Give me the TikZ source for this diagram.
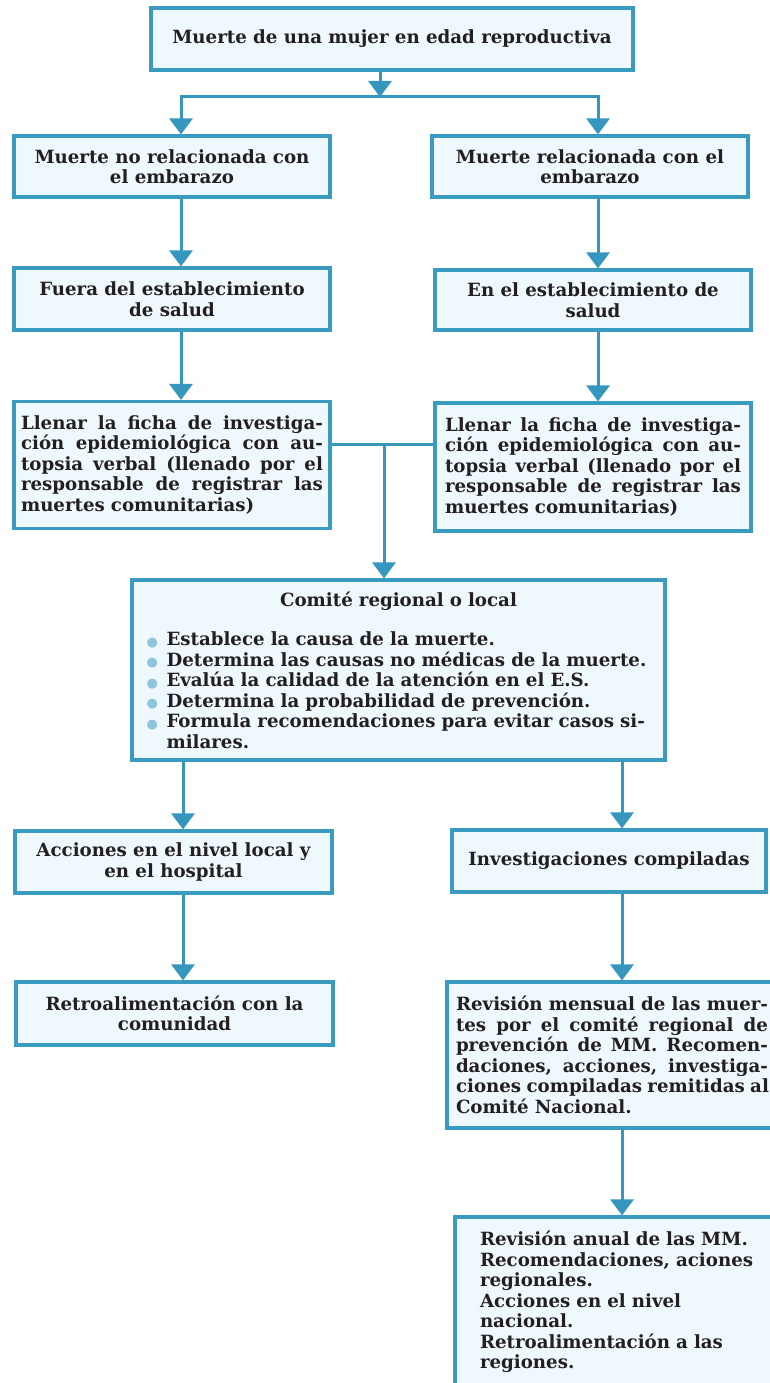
\documentclass[tikz,border=0pt]{standalone}
\usepackage{fontspec}
\setmainfont{DejaVu Serif}
\newfontfamily\symf{DejaVu Sans}
\usetikzlibrary{arrows.meta}
\definecolor{bc}{HTML}{3A9BC1}
\definecolor{ac}{HTML}{3597BE}
\definecolor{bf}{HTML}{EEF8FD}
\definecolor{dotc}{HTML}{8EC4DC}
\definecolor{tx}{HTML}{231F20}
\newcommand\fs{\fontsize{18.2}{20.5}\selectfont\bfseries}
\newcommand\bul{\textcolor{dotc}{\raisebox{-0.5pt}{\symf\fontsize{13}{13}\selectfont ●}}}
\newcommand\bit[1]{\par\hangindent=28pt\hangafter=1\noindent\makebox[28pt][l]{\hspace{8pt}\bul}#1}
\newcommand\jl[2]{\makebox[#1pt][s]{\spaceskip=\fontdimen2\font plus 1fil minus 1pt\relax\xspaceskip=\spaceskip #2}}
\tikzset{
  box/.style={draw=bc, fill=bf, line width=3.2pt, rectangle, inner sep=0pt, font=\fs, text=tx, align=center},
  conn/.style={draw=ac, line width=3pt},
  arr/.style={conn, -{Triangle[width=23pt,length=16pt]}},
}
\begin{document}
\begin{tikzpicture}[x=1pt,y=-1pt]
\useasboundingbox (0,0) rectangle (769,1383);
% boxes
\node[box, minimum width=482, minimum height=62] (top) at (392,39) {Muerte de una mujer en edad reproductiva};
\node[box, minimum width=316, minimum height=61] (l1) at (172,166.5) {Muerte no relacionada con\\el embarazo};
\node[box, minimum width=316, minimum height=61] (r1) at (590,166.5) {Muerte relacionada con el\\embarazo};
\node[box, minimum width=316, minimum height=62] (l2) at (172,299) {Fuera del establecimiento\\de salud};
\node[box, minimum width=316, minimum height=60] (r2) at (593,300) {En el establecimiento de\\salud};
\node[box, minimum width=316, minimum height=127, text width=302, align=left] (l3) at (172,465)
  {\jl{302}{Llenar la ficha de investiga-}\\\jl{302}{ción epidemiológica con au-}\\\jl{302}{topsia verbal (llenado por el}\\\jl{302}{responsable de registrar las}\\muertes comunitarias)};
\node[box, minimum width=316, minimum height=128, text width=296, align=left] (r3) at (593,467)
  {\jl{296}{Llenar la ficha de investiga-}\\\jl{296}{ción epidemiológica con au-}\\\jl{296}{topsia verbal (llenado por el}\\\jl{296}{responsable de registrar las}\\muertes comunitarias)};
\node[box, minimum width=533, minimum height=180, text width=520, align=left] (com) at (398.5,670)
  {{\centering Comité regional o local\par}\vspace{19pt}\raggedright
   \bit{Establece la causa de la muerte.}
   \bit{Determina las causas no médicas de la muerte.}
   \bit{Evalúa la calidad de la atención en el E.S.}
   \bit{Determina la probabilidad de prevención.}
   \bit{Formula recomendaciones para evitar casos si-\break milares.}\par};
\node[box, minimum width=317, minimum height=62] (l4) at (173.5,862) {Acciones en el nivel local y\\en el hospital};
\node[box, minimum width=314, minimum height=62] (r4) at (609,861) {Investigaciones compiladas};
\node[box, minimum width=330, minimum height=146, text width=312, align=left] (r5) at (612,1055)
  {\jl{312}{Revisión mensual de las muer-}\\\jl{312}{tes por el comité regional de}\\\jl{312}{prevención de MM. Recomen-}\\\jl{312}{daciones, acciones, investiga-}\\\jl{312}{ciones compiladas remitidas al}\\Comité Nacional.};
\node[box, minimum width=317, minimum height=63] (l5) at (174.5,1013.5) {Retroalimentación con la\\comunidad};
\node[box, minimum width=340, minimum height=170, text width=290, align=left] (bot) at (625,1302)
  {Revisión anual de las MM.\\Recomendaciones, aciones\\regionales.\\Acciones en el nivel\\nacional.\\Retroalimentación a las\\regiones.};
% connector points
\coordinate (sp) at (380,97);
\coordinate (xl) at (181,0);
\coordinate (xr) at (598,0);
\coordinate (jn) at (384,444);
\coordinate (xl2) at (183,0);
\coordinate (xr2) at (622,0);
% connectors
\draw[arr] (top.south -| sp) -- (sp);
\draw[arr] (sp) -| (l1.north -| xl);
\draw[arr] (sp) -| (r1.north -| xr);
\draw[arr] (l1.south -| xl) -- (l2.north -| xl);
\draw[arr] (r1.south -| xr) -- (r2.north -| xr);
\draw[arr] (l2.south -| xl) -- (l3.north -| xl);
\draw[arr] (r2.south -| xr) -- (r3.north -| xr);
\draw[conn] (l3.east |- jn) -- (r3.west |- jn);
\draw[arr] (jn) -- (com.north -| jn);
\draw[arr] (com.south -| xl2) -- (l4.north -| xl2);
\draw[arr] (com.south -| xr2) -- (r4.north -| xr2);
\draw[arr] (l4.south -| xl2) -- (l5.north -| xl2);
\draw[arr] (r4.south -| xr2) -- (r5.north -| xr2);
\draw[arr] (r5.south -| xr2) -- (bot.north -| xr2);
\end{tikzpicture}
\end{document}
